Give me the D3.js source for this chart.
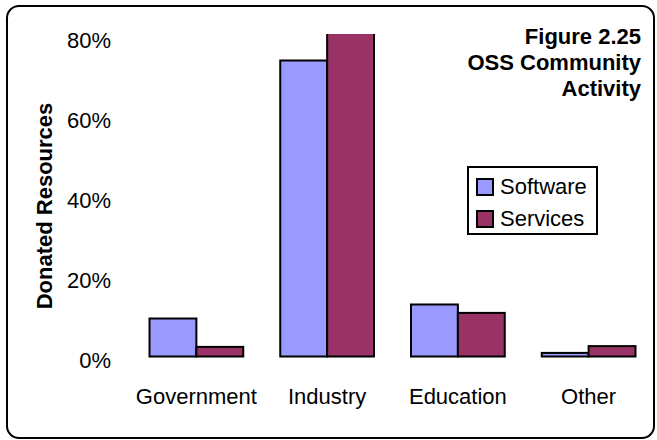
<!DOCTYPE html>
<html>
<head>
<meta charset="utf-8">
<script src="https://cdn.jsdelivr.net/npm/d3@7"></script>
<style>
  html, body { margin: 0; padding: 0; background: #fff; }
  svg { display: block; font-family: "Liberation Sans", Arial, sans-serif; }
</style>
</head>
<body>
<svg id="chart" width="657" height="440"></svg>
<script>
// Share of donated resources by sector
const categories = ["Government", "Industry", "Education", "Other"];
const seriesNames = ["Software", "Services"];
const software = [0.095, 0.74, 0.13, 0.009];
const services = [0.024, 0.85, 0.109, 0.026];
const yTicks = [0, 0.2, 0.4, 0.6, 0.8];
const titleLines = ["Figure 2.25", "OSS Community", "Activity"];
const yTitle = "Donated Resources";

const colors = { Software: "#9999FF", Services: "#993366" };
const values = { Software: software, Services: services };

const svg = d3.select("#chart");

// outer rounded frame
svg.append("rect")
  .attr("x", 7).attr("y", 6)
  .attr("width", 647).attr("height", 432)
  .attr("rx", 12).attr("ry", 12)
  .attr("fill", "#fff").attr("stroke", "#000").attr("stroke-width", 2);

const plotTop = 34, baseY = 356.5;
const x0 = d3.scaleBand().domain(categories).range([131, 654])
  .paddingInner(0.283).paddingOuter(0.1415);
const x1 = d3.scaleBand().domain(seriesNames).range([0, x0.bandwidth()]);
const y = d3.scaleLinear().domain([0, 0.8]).range([baseY, 36.5]);

svg.append("defs").append("clipPath").attr("id", "plotClip")
  .append("rect").attr("x", 120).attr("y", plotTop)
  .attr("width", 540).attr("height", baseY - plotTop + 5);

// y axis labels (no axis line)
const yAxis = d3.axisLeft(y).tickValues(yTicks).tickFormat(d3.format(".0%")).tickSize(0).tickPadding(0);
const yg = svg.append("g").attr("transform", "translate(111,3.5)").call(yAxis);
yg.select(".domain").remove();
yg.selectAll("text").attr("font-size", 22).attr("fill", "#000")
  .attr("font-family", "Liberation Sans, Arial, sans-serif");

// category labels
const xAxis = d3.axisBottom(x0).tickSize(0).tickPadding(0);
const xg = svg.append("g").attr("transform", "translate(0,388)").call(xAxis);
xg.select(".domain").remove();
xg.selectAll("text").attr("font-size", 22).attr("fill", "#000").attr("dy", 0).attr("y", 16)
  .attr("font-family", "Liberation Sans, Arial, sans-serif");

// bars
const bars = svg.append("g").attr("clip-path", "url(#plotClip)");
categories.forEach((c, i) => {
  seriesNames.forEach(s => {
    const v = values[s][i];
    bars.append("rect")
      .attr("x", x0(c) + x1(s))
      .attr("y", y(v))
      .attr("width", x1.bandwidth())
      .attr("height", y(0) - y(v))
      .attr("fill", colors[s])
      .attr("stroke", "#000").attr("stroke-width", 2);
  });
});

// y axis title
svg.append("text")
  .attr("transform", "translate(52,206) rotate(-90)")
  .attr("text-anchor", "middle")
  .attr("font-size", 22).attr("font-weight", "bold")
  .text(yTitle);

// chart title, right aligned
svg.append("g").selectAll("text").data(titleLines).join("text")
  .attr("x", 641).attr("y", (d, i) => 44 + i * 26)
  .attr("text-anchor", "end")
  .attr("font-size", 22).attr("font-weight", "bold")
  .text(d => d);

// legend
const lg = svg.append("g");
lg.append("rect").attr("x", 468).attr("y", 167).attr("width", 129).attr("height", 67)
  .attr("fill", "#fff").attr("stroke", "#000").attr("stroke-width", 2);
seriesNames.forEach((s, i) => {
  lg.append("rect").attr("x", 477).attr("y", 179 + i * 32).attr("width", 16).attr("height", 16)
    .attr("fill", colors[s]).attr("stroke", "#000").attr("stroke-width", 2);
  lg.append("text").attr("x", 500).attr("y", 194 + i * 32)
    .attr("font-size", 22).text(s);
});
</script>
</body>
</html>
